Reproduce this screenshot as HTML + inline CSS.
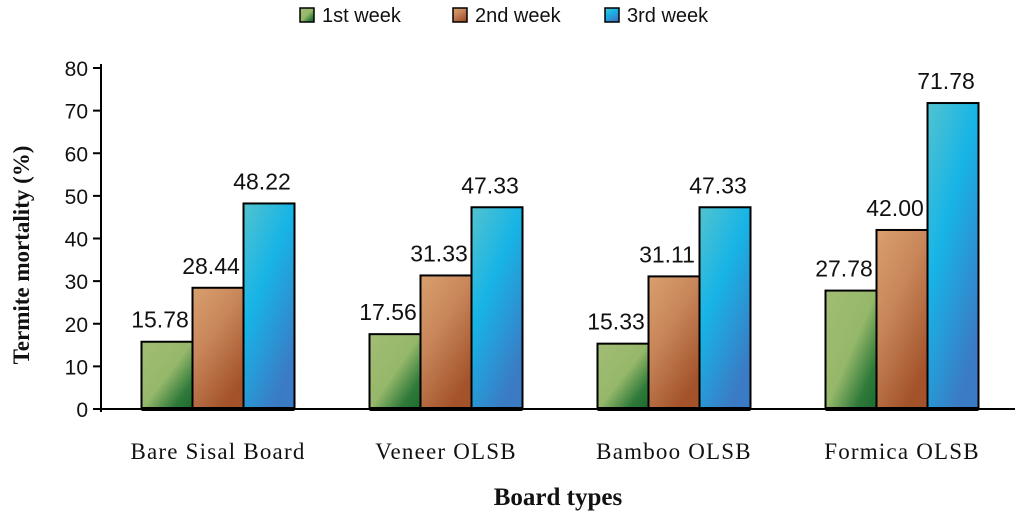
<!DOCTYPE html>
<html><head><meta charset="utf-8"><style>
body{margin:0;background:#fff;}
svg text{fill:#111;}
</style></head><body>
<svg id="c" width="1024" height="520" xmlns="http://www.w3.org/2000/svg">
<defs>
<linearGradient id="g0" x1="0" y1="0" x2="1" y2="1"><stop offset="0" stop-color="#a2bd74"/><stop offset="0.5" stop-color="#96b86a"/><stop offset="0.8" stop-color="#2f7a3a"/><stop offset="1" stop-color="#1c6a30"/></linearGradient>
<linearGradient id="g1" x1="0" y1="0" x2="0.6" y2="1"><stop offset="0" stop-color="#d9a06e"/><stop offset="0.45" stop-color="#c8865a"/><stop offset="1" stop-color="#a3522a"/></linearGradient>
<linearGradient id="g2" x1="0" y1="0" x2="0.6" y2="1"><stop offset="0" stop-color="#52c3cf"/><stop offset="0.45" stop-color="#17b4e6"/><stop offset="1" stop-color="#3b7ac4"/></linearGradient>
</defs>
<g id="legend"></g>
<g id="axes"></g>
<g id="bars"></g>
<text transform="translate(29,255) rotate(-90)" text-anchor="middle" font-family="Liberation Serif, serif" font-weight="bold" font-size="23">Termite mortality (%)</text>
<text x="558" y="505" text-anchor="middle" font-family="Liberation Serif, serif" font-weight="bold" font-size="25">Board types</text>
</svg>
<script>
const categories=["Bare Sisal Board","Veneer OLSB","Bamboo OLSB","Formica OLSB"];
const seriesNames=["1st week","2nd week","3rd week"];
const week1=[15.78,17.56,15.33,27.78];
const week2=[28.44,31.33,31.11,42.00];
const week3=[48.22,47.33,47.33,71.78];
const yTicks=[0,10,20,30,40,50,60,70,80];
const series=[week1,week2,week3];
const NS="http://www.w3.org/2000/svg";
const x0=101,x1=1013,yB=409,yT=68,yMax=80;
const y=v=>yB-(v/yMax)*(yB-yT);
const band=(x1-x0)/categories.length, bw=51;
const mk=(p,t,a)=>{const e=document.createElementNS(NS,t);for(const k in a)e.setAttribute(k,a[k]);p.appendChild(e);return e;};
const ax=document.getElementById('axes'),bars=document.getElementById('bars'),lg=document.getElementById('legend');
let l=mk(ax,'line',{x1:x0,y1:yT-4,x2:x0,y2:yB+3,stroke:'#000','stroke-width':2});

l=mk(ax,'line',{x1:x0-8,y1:yB,x2:x1+2,y2:yB,stroke:'#000','stroke-width':2});

yTicks.forEach(t=>{
 mk(ax,'line',{x1:x0-8,y1:y(t),x2:x0,y2:y(t),stroke:'#000','stroke-width':2});
 const tx=mk(ax,'text',{x:x0-13,y:y(t)+8,'text-anchor':'end','font-family':'Liberation Sans, sans-serif','font-size':21});
 tx.textContent=t;
 
 
});
categories.forEach((c,i)=>{
 const cx=x0+band*(i+0.5)+3;
 const tx=mk(ax,'text',{x:cx,y:459,'text-anchor':'middle','font-family':'Liberation Serif, serif','font-size':23,'letter-spacing':1.2});
 tx.textContent=c;
 
 
 series.forEach((s,j)=>{
  const bx=cx-1.5*bw+j*bw;
  const r=mk(bars,'rect',{x:bx,y:y(s[i]),width:bw,height:yB-y(s[i]),fill:'url(#g'+j+')',stroke:'#000','stroke-width':2});
  
  
  const v=mk(bars,'text',{x:bx+bw/2-7,y:y(s[i])-14,'text-anchor':'middle','font-family':'Liberation Sans, sans-serif','font-size':23});
  v.textContent=s[i].toFixed(2);
  
  
 });
 mk(bars,'line',{x1:cx-1.5*bw,y1:yB,x2:cx+1.5*bw,y2:yB,stroke:'#000','stroke-width':4});
});
const lx=[300,453,605];
seriesNames.forEach((n,j)=>{
 const r=mk(lg,'rect',{x:lx[j],y:8,width:14,height:14,fill:'url(#g'+j+')',stroke:'#000','stroke-width':1.5});
 
 
 const t=mk(lg,'text',{x:lx[j]+22,y:22,'font-family':'Liberation Sans, sans-serif','font-size':20});
 t.textContent=n;
 
 
});
</script>
</body></html>
